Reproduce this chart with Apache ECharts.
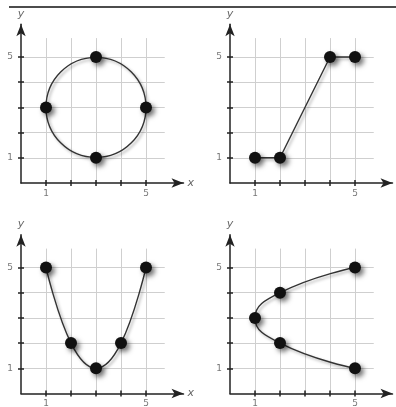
<!DOCTYPE html>
<html>
<head>
<meta charset="utf-8">
<script src="https://cdn.jsdelivr.net/npm/echarts@6/dist/echarts.min.js"></script>
<style>
  html, body { margin: 0; padding: 0; background: #fff; }
  #main { width: 396px; height: 407px; }
</style>
</head>
<body>
<div id="main"></div>
<script>
// data for the four small graphs
var circleShape = [[3, 3, 2]];               // centre x, centre y, radius
var circlePoints = [[3, 5], [1, 3], [5, 3], [3, 1]];
var stepPoints = [[1, 1], [2, 1], [4, 5], [5, 5]];
var valleyPoints = [[1, 5], [2, 2], [3, 1], [4, 2], [5, 5]];
var sidePoints = [[5, 5], [2, 4], [1, 3], [2, 2], [5, 1]];

var tickValues = [1, 2, 3, 4, 5];
var labelValues = [1, 5];

// panel origins (pixel of 0,0) and unit size
var origins = [[21, 183], [230, 183], [21, 393.5], [230, 393.5]];
var ux = 25, uy = 25.2;
var axisMaxX = 6.5, axisMaxY = 6.3, gridMax = 5.75;

var chart = echarts.init(document.getElementById('main'));

var grids = [], xAxes = [], yAxes = [], series = [];

var dotStyle = {
  color: '#111',
  opacity: 1,
  shadowColor: 'rgba(0,0,0,0.55)',
  shadowBlur: 5,
  shadowOffsetX: 3,
  shadowOffsetY: 3
};
var curveStyle = {
  color: '#333',
  width: 1.4,
  shadowColor: 'rgba(0,0,0,0.35)',
  shadowBlur: 3,
  shadowOffsetX: 2,
  shadowOffsetY: 2
};

origins.forEach(function (o, i) {
  var ox = o[0], oy = o[1];
  // grid with the axes and the marks
  grids.push({
    left: ox, top: oy - axisMaxY * uy,
    width: axisMaxX * ux, height: axisMaxY * uy,
    containLabel: false, outerBoundsMode: 'none'
  });
  // grid only for the light grid lines
  grids.push({
    left: ox, top: oy - gridMax * uy,
    width: gridMax * ux, height: gridMax * uy,
    containLabel: false, outerBoundsMode: 'none'
  });

  xAxes.push({
    gridIndex: 2 * i, type: 'value', min: 0, max: axisMaxX, interval: 1,
    name: 'x', nameLocation: 'end', nameGap: 4,
    nameTextStyle: { color: '#666', fontSize: 11, fontFamily: 'DejaVu Sans', fontStyle: 'italic' },
    axisLine: { show: true, symbol: ['none', 'arrow'], symbolSize: [7, 12], lineStyle: { color: '#222', width: 1.5 } },
    axisTick: { show: true, inside: false, length: 3, customValues: tickValues, lineStyle: { color: '#222', width: 1.5 } },
    axisLabel: { show: true, customValues: labelValues, margin: 6, color: '#777', fontSize: 9, fontFamily: 'DejaVu Sans' },
    splitLine: { show: false }
  });
  yAxes.push({
    gridIndex: 2 * i, type: 'value', min: 0, max: axisMaxY, interval: 1,
    name: 'y', nameLocation: 'end', nameGap: 5,
    nameTextStyle: { color: '#666', fontSize: 11, fontFamily: 'DejaVu Sans', fontStyle: 'italic', align: 'center' },
    axisLine: { show: true, symbol: ['none', 'arrow'], symbolSize: [7, 12], lineStyle: { color: '#222', width: 1.5 } },
    axisTick: { show: true, inside: false, length: 3, customValues: tickValues, lineStyle: { color: '#222', width: 1.5 } },
    axisLabel: { show: true, customValues: labelValues, margin: 8, color: '#777', fontSize: 9, fontFamily: 'DejaVu Sans' },
    splitLine: { show: false }
  });

  xAxes.push({
    gridIndex: 2 * i + 1, type: 'value', min: 0, max: gridMax, interval: 1,
    axisLine: { show: false },
    axisTick: { show: true, inside: true, length: 3, customValues: tickValues, lineStyle: { color: '#222', width: 1.5 } },
    axisLabel: { show: false },
    splitLine: { show: true, lineStyle: { color: '#cfcfcf', width: 1 } }
  });
  yAxes.push({
    gridIndex: 2 * i + 1, type: 'value', min: 0, max: gridMax, interval: 1,
    axisLine: { show: false },
    axisTick: { show: true, inside: true, length: 3, customValues: tickValues, lineStyle: { color: '#222', width: 1.5 } },
    axisLabel: { show: false },
    splitLine: { show: true, lineStyle: { color: '#cfcfcf', width: 1 } }
  });
});

// panel 1: circle
series.push({
  type: 'custom', xAxisIndex: 0, yAxisIndex: 0, data: circleShape, z: 3,
  renderItem: function (params, api) {
    var c = api.coord([api.value(0), api.value(1)]);
    var s = api.size([api.value(2), api.value(2)]);
    return {
      type: 'circle',
      shape: { cx: c[0], cy: c[1], r: s[0] },
      style: {
        fill: 'none', stroke: curveStyle.color, lineWidth: curveStyle.width,
        shadowColor: curveStyle.shadowColor, shadowBlur: curveStyle.shadowBlur,
        shadowOffsetX: curveStyle.shadowOffsetX, shadowOffsetY: curveStyle.shadowOffsetY
      }
    };
  }
});
series.push({
  type: 'scatter', xAxisIndex: 0, yAxisIndex: 0, data: circlePoints,
  symbolSize: 12, itemStyle: dotStyle, z: 4
});

// panel 2: straight segments
series.push({
  type: 'line', xAxisIndex: 2, yAxisIndex: 2, data: stepPoints,
  symbol: 'circle', symbolSize: 12, showSymbol: true,
  lineStyle: curveStyle, itemStyle: dotStyle, z: 4
});

// panel 3: valley curve
series.push({
  type: 'line', xAxisIndex: 4, yAxisIndex: 4, data: valleyPoints,
  smooth: 0.4, symbol: 'circle', symbolSize: 12,
  lineStyle: curveStyle, itemStyle: dotStyle, z: 4
});

// panel 4: sideways curve
series.push({
  type: 'line', xAxisIndex: 6, yAxisIndex: 6, data: sidePoints,
  smooth: 0.5, symbol: 'circle', symbolSize: 12,
  lineStyle: curveStyle, itemStyle: dotStyle, z: 4
});

chart.setOption({
  animation: false,
  backgroundColor: '#fff',
  grid: grids,
  xAxis: xAxes,
  yAxis: yAxes,
  series: series,
  graphic: [{
    type: 'line',
    shape: { x1: 9, y1: 7, x2: 396, y2: 7 },
    style: { stroke: '#111', lineWidth: 1.5 }
  }]
});
</script>
</body>
</html>
